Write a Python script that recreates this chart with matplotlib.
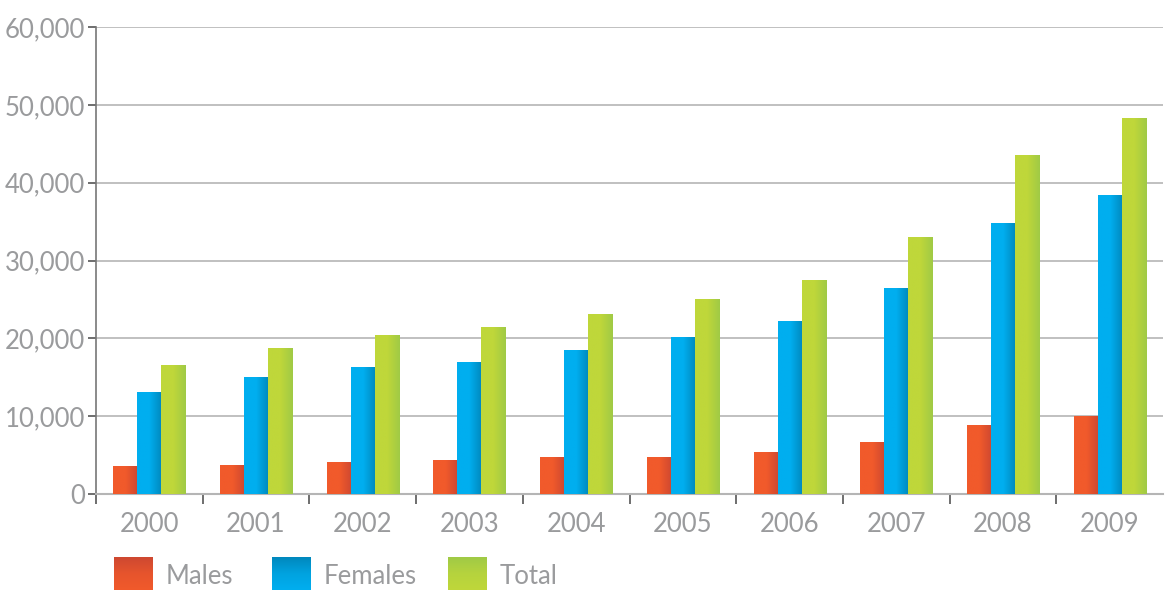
import numpy as np
import matplotlib.pyplot as plt
from matplotlib.colors import LinearSegmentedColormap
from matplotlib.ticker import FuncFormatter, FixedLocator

plt.rcParams['font.family'] = ['Lato', 'DejaVu Sans']

# data
years = ['2000', '2001', '2002', '2003', '2004', '2005', '2006', '2007', '2008', '2009']
males = [3500, 3700, 4100, 4250, 4650, 4750, 5300, 6600, 8750, 9900]
females = [13000, 15000, 16200, 16950, 18400, 20150, 22100, 26450, 34700, 38300]
total = [16500, 18750, 20300, 21350, 23000, 24950, 27400, 33000, 43450, 48200]

series = [('Males', males, '#F15A2B', '#CE4831'),
          ('Females', females, '#00AEEF', '#0088BD'),
          ('Total', total, '#BFD73A', '#A0CA46')]

grey_txt = '#9A9B9D'
fs = 18.5

fig = plt.figure(figsize=(11.65, 5.9), dpi=100)
ax = fig.add_axes([96/1165, 1-494/590, (1163-96)/1165, (494-27)/590])

x = np.arange(len(years))
w = 0.225
# horizontal shading: flat on the left half, darker towards the right edge
ramp = np.interp(np.linspace(0, 1, 64), [0, 0.5, 1], [0, 0, 1]).reshape(1, -1)

for i, (name, vals, light, dark) in enumerate(series):
    cmap = LinearSegmentedColormap.from_list(name, [light, dark])
    bars = ax.bar(x + (i - 1) * w, vals, w, color=light, zorder=2)
    for b in bars:
        x0, y0 = b.get_x(), b.get_y()
        ax.imshow(ramp, cmap=cmap, extent=[x0, x0 + b.get_width(), y0, y0 + b.get_height()],
                  aspect='auto', zorder=3, interpolation='bilinear')

ax.set_xlim(-0.5, len(years) - 0.5)
ax.set_ylim(0, 60000)

ax.set_yticks(np.arange(0, 60001, 10000))
ax.yaxis.set_major_formatter(FuncFormatter(lambda v, p: f'{int(v):,}'))
ax.grid(axis='y', color='#B5B5B5', lw=1.2, zorder=1)
ax.tick_params(axis='y', length=6, width=1.2, color='#555555', labelcolor=grey_txt,
               labelsize=fs, pad=2)

ax.set_xticks(x)
ax.set_xticklabels(years)
ax.tick_params(axis='x', length=0, labelcolor=grey_txt, labelsize=fs, pad=13)
ax.xaxis.set_minor_locator(FixedLocator(np.arange(-0.5, len(years) - 1, 1)))
ax.tick_params(axis='x', which='minor', length=7, width=1.2, color='#555555')

for s in ['top', 'right']:
    ax.spines[s].set_visible(False)
ax.spines['left'].set_color('#777777')
ax.spines['left'].set_linewidth(1.2)
ax.spines['bottom'].set_color('#B5B5B5')
ax.spines['bottom'].set_linewidth(1.5)

# legend with vertically shaded squares, in pixel coordinates
lg = fig.add_axes([0, 0, 1, 1], zorder=-1)
lg.set_xlim(0, 1165)
lg.set_ylim(590, 0)
lg.axis('off')
vramp = np.interp(np.linspace(0, 1, 64), [0, 0.5, 1], [1, 0.3, 0]).reshape(-1, 1)
sq_x = [114, 272, 448]
for (name, vals, light, dark), sx in zip(series, sq_x):
    cmap = LinearSegmentedColormap.from_list(name + 'lg', [light, dark])
    lg.imshow(vramp, cmap=cmap, extent=[sx, sx + 39, 590, 557], aspect='auto',
              interpolation='bilinear')
    lg.text(sx + 52, 577, name, color=grey_txt, fontsize=fs, va='center', ha='left')
lg.set_xlim(0, 1165)
lg.set_ylim(590, 0)

fig.savefig('out.png', dpi=100)
